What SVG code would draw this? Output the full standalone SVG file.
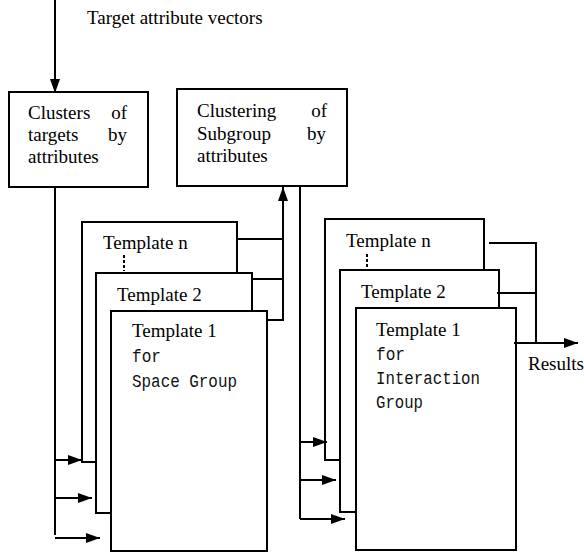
<svg xmlns="http://www.w3.org/2000/svg" width="584" height="553" viewBox="0 0 584 553">
  <style>
    .box { fill: #fff; stroke: #000; stroke-width: 2; }
    .ln { fill: none; stroke: #000; stroke-width: 2; }
    .arr { fill: none; stroke: #000; stroke-width: 2; marker-end: url(#head); }
    .dots { fill: none; stroke: #000; stroke-width: 2; stroke-dasharray: 3 2; }
    .t { font-family: "Liberation Serif", "Times New Roman", serif; font-size: 19px; fill: #000; }
    .m { font-family: "Liberation Mono", "Courier New", monospace; font-size: 19px; fill: #111; }
  </style>
  <defs>
    <marker id="head" markerUnits="userSpaceOnUse" markerWidth="14" markerHeight="10" refX="14" refY="5" orient="auto">
      <path d="M0,0 L14,5 L0,10 z" fill="#000"/>
    </marker>
  </defs>

  <text class="t" x="87" y="24">Target attribute vectors</text>

  <g id="clusters">
    <rect class="box" x="9" y="92" width="139" height="95"/>
    <text class="t" x="28" y="119">Clusters</text>
    <text class="t" x="127" y="119" text-anchor="end">of</text>
    <text class="t" x="28" y="141">targets</text>
    <text class="t" x="127" y="141" text-anchor="end">by</text>
    <text class="t" x="28" y="163">attributes</text>
  </g>

  <g id="clustering">
    <rect class="box" x="177" y="89" width="170" height="97"/>
    <text class="t" x="197" y="117">Clustering</text>
    <text class="t" x="327" y="117" text-anchor="end">of</text>
    <text class="t" x="197" y="140">Subgroup</text>
    <text class="t" x="326" y="140" text-anchor="end">by</text>
    <text class="t" x="197" y="162">attributes</text>
  </g>

  <g id="space-templates">
    <rect class="box" x="82" y="222" width="155" height="240"/>
    <text class="t" x="103" y="249">Template n</text>
    <line class="dots" x1="124" y1="255" x2="124" y2="271"/>
    <rect class="box" x="96" y="273" width="156" height="240"/>
    <text class="t" x="117" y="301">Template 2</text>
    <rect class="box" x="111" y="311" width="156" height="240"/>
    <text class="t" x="132" y="337">Template 1</text>
    <text class="m" x="132" y="362" textLength="29" lengthAdjust="spacingAndGlyphs">for</text>
    <text class="m" x="132" y="387" textLength="105" lengthAdjust="spacingAndGlyphs">Space Group</text>
  </g>

  <g id="interaction-templates">
    <rect class="box" x="325" y="219" width="159" height="241"/>
    <text class="t" x="346" y="247">Template n</text>
    <line class="dots" x1="367" y1="254" x2="367" y2="269"/>
    <rect class="box" x="340" y="270" width="159" height="242"/>
    <text class="t" x="361" y="298">Template 2</text>
    <rect class="box" x="356" y="308" width="160" height="242"/>
    <text class="t" x="376" y="336">Template 1</text>
    <text class="m" x="376" y="360" textLength="29" lengthAdjust="spacingAndGlyphs">for</text>
    <text class="m" x="376" y="384" textLength="104" lengthAdjust="spacingAndGlyphs">Interaction</text>
    <text class="m" x="376" y="408" textLength="47" lengthAdjust="spacingAndGlyphs">Group</text>
  </g>

  <text class="t" x="528" y="370">Results</text>

  <g id="connectors">
    <!-- input vectors into the target clustering -->
    <line class="arr" x1="55" y1="0" x2="55" y2="93"/>
    <!-- target clusters feed the space-group templates -->
    <line class="ln" x1="55" y1="187" x2="55" y2="535"/>
    <line class="arr" x1="55" y1="460" x2="82" y2="460"/>
    <line class="arr" x1="55" y1="498" x2="92" y2="498"/>
    <line class="arr" x1="55" y1="538" x2="100" y2="538"/>
    <!-- space-group templates back to subgroup clustering -->
    <line class="ln" x1="237" y1="239" x2="283" y2="239"/>
    <line class="ln" x1="252" y1="279" x2="283" y2="279"/>
    <line class="ln" x1="267" y1="320" x2="283" y2="320"/>
    <line class="arr" x1="283" y1="321" x2="283" y2="187"/>
    <!-- subgroup clusters feed the interaction templates -->
    <line class="ln" x1="300" y1="186" x2="300" y2="519"/>
    <line class="arr" x1="300" y1="442" x2="327" y2="442"/>
    <line class="arr" x1="300" y1="480" x2="336" y2="480"/>
    <line class="arr" x1="300" y1="519" x2="345" y2="519"/>
    <!-- interaction templates to results -->
    <line class="ln" x1="489" y1="243" x2="536" y2="243"/>
    <line class="ln" x1="497" y1="293" x2="536" y2="293"/>
    <line class="ln" x1="536" y1="242" x2="536" y2="343"/>
    <line class="arr" x1="514" y1="343" x2="578" y2="343"/>
  </g>
</svg>
